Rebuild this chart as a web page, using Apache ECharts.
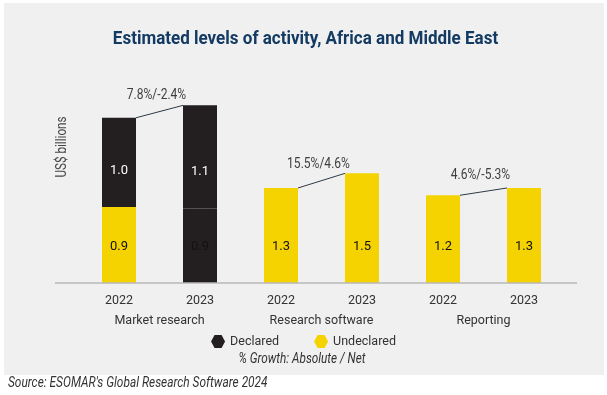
<!DOCTYPE html>
<html>
<head>
<meta charset="utf-8">
<script src="https://cdn.jsdelivr.net/npm/echarts@6/dist/echarts.min.js"></script>
<style>
html,body{margin:0;padding:0;background:#ffffff;}
#chart{width:607px;height:395px;}
</style>
</head>
<body>
<div id="chart"></div>
<script>
// ---- data ----
const years = ['2022', '2023', '2022', '2023', '2022', '2023'];
const groups = ['Market research', 'Research software', 'Reporting'];
// bar heights (US$ billions)
const undeclared = [1.04, 1.02, 1.30, 1.50, 1.20, 1.30];
const declared = [1.22, 1.41, null, null, null, null];
// printed value labels
const undeclaredLabels = ['0.9', '0.9', '1.3', '1.5', '1.2', '1.3'];
const declaredLabels = ['1.0', '1.1', '', '', '', ''];
// growth annotations: [from index, to index]
const growthPairs = [[0, 1], [2, 3], [4, 5]];
const growthLabels = ['7.8%/-2.4%', '15.5%/4.6%', '4.6%/-5.3%'];

const FONT = "Roboto, 'Noto Sans', sans-serif";
const BLACK = '#231f20';
const YELLOW = '#f5d300';
const TXT = '#333333';

const totals = years.map((_, i) => (undeclared[i] || 0) + (declared[i] || 0));
const growthData = growthPairs.map(p => [p[0], p[1], totals[p[0]], totals[p[1]]]);

const chart = echarts.init(document.getElementById('chart'), null, {renderer: 'canvas'});
const hexagon = 'path://M3.5,0 L10.5,0 L14,6.5 L10.5,13 L3.5,13 L0,6.5 Z';

const option = {
  backgroundColor: '#ffffff',
  animation: false,
  textStyle: {fontFamily: FONT},
  legend: {
    data: [
      {name: 'Declared', icon: hexagon, itemStyle: {color: BLACK, borderWidth: 0}},
      {name: 'Undeclared', icon: hexagon, itemStyle: {color: YELLOW, borderWidth: 0}}
    ],
    left: 'center', top: 335, padding: 0, itemWidth: 14, itemHeight: 13, itemGap: 35,
    textStyle: {fontFamily: FONT, fontSize: 12.5, color: TXT},
    selectedMode: false
  },
  graphic: [
    {type: 'rect', z: -10, silent: true, shape: {x: 4, y: 3, width: 600, height: 372}, style: {fill: '#f0f0f0'}},
    {type: 'text', silent: true, x: 305.5, y: 39.5, scaleX: 0.92,
      style: {text: 'Estimated levels of activity, Africa and Middle East', fill: '#123a62',
        font: 'bold 18.5px ' + FONT, textAlign: 'center', textVerticalAlign: 'middle'}},
    {type: 'text', silent: true, x: 302, y: 359, scaleX: 0.84,
      style: {text: '% Growth: Absolute / Net', fill: TXT,
        font: 'italic 14px ' + FONT, textAlign: 'center', textVerticalAlign: 'middle'}},
    {type: 'text', silent: true, x: 8, y: 383, scaleX: 0.85,
      style: {text: "Source: ESOMAR's Global Research Software 2024", fill: TXT,
        font: 'italic 14px ' + FONT, textAlign: 'left', textVerticalAlign: 'middle'}},
    {type: 'text', silent: true, x: 62, y: 147, rotation: Math.PI / 2, scaleX: 0.836,
      style: {text: 'US$ billions', fill: '#444', font: '14px ' + FONT, textAlign: 'center', textVerticalAlign: 'middle'}},
    {type: 'line', silent: true, z: 5, shape: {x1: 55, y1: 283, x2: 577, y2: 283}, style: {stroke: '#b8b8b8', lineWidth: 1.5}}
  ],
  grid: {left: 78.5, right: 42.5, top: 63.7, height: 219.3, containLabel: false},
  xAxis: [
    {
      type: 'category', data: years, gridIndex: 0, position: 'bottom',
      axisLine: {show: false}, axisTick: {show: false},
      axisLabel: {margin: 11, fontFamily: FONT, fontSize: 12.5, color: TXT}
    },
    {
      type: 'category', data: groups, gridIndex: 0, position: 'bottom',
      axisLine: {show: false}, axisTick: {show: false},
      axisLabel: {margin: 31.5, fontFamily: FONT, fontSize: 12.5, color: TXT}
    }
  ],
  yAxis: {
    type: 'value', min: 0, max: 3, show: false
  },
  series: [
    {
      name: 'Undeclared', type: 'bar', stack: 'total', barWidth: 34, z: 2,
      itemStyle: {color: YELLOW},
      data: undeclared.map((v, i) => i === 1
        ? {value: v, itemStyle: {color: BLACK, borderColor: BLACK, borderWidth: 2.5}}
        : v),
      label: {
        show: true, position: 'insideBottom', distance: 30,
        fontFamily: FONT, fontSize: 13, color: '#111',
        formatter: p => undeclaredLabels[p.dataIndex]
      }
    },
    {
      name: 'Declared', type: 'bar', stack: 'total', barWidth: 34, z: 2,
      itemStyle: {color: BLACK},
      data: declared,
      label: {
        show: true, position: 'insideBottom', distance: 30,
        fontFamily: FONT, fontSize: 13, color: '#ffffff',
        formatter: p => declaredLabels[p.dataIndex]
      }
    },
    {
      name: 'growth', type: 'custom', silent: true, z: 10,
      data: growthData,
      renderItem: function (params, api) {
        const p0 = api.coord([api.value(0), api.value(2)]);
        const p1 = api.coord([api.value(1), api.value(3)]);
        const hw = 17;
        const x0 = p0[0] + hw, x1 = p1[0] - hw;
        const mx = (x0 + x1) / 2, my = (p0[1] + p1[1]) / 2;
        return {
          type: 'group',
          children: [
            {type: 'line', shape: {x1: x0, y1: p0[1], x2: x1, y2: p1[1]}, style: {stroke: '#2e3a46', lineWidth: 1}},
            {type: 'text', x: mx - 3, y: my - 16.5, scaleX: 0.86,
              style: {text: growthLabels[params.dataIndex], fill: '#404040', font: '14px ' + FONT, textAlign: 'center', textVerticalAlign: 'middle'}}
          ]
        };
      }
    }
  ]
};
chart.setOption(option);
</script>
</body>
</html>
